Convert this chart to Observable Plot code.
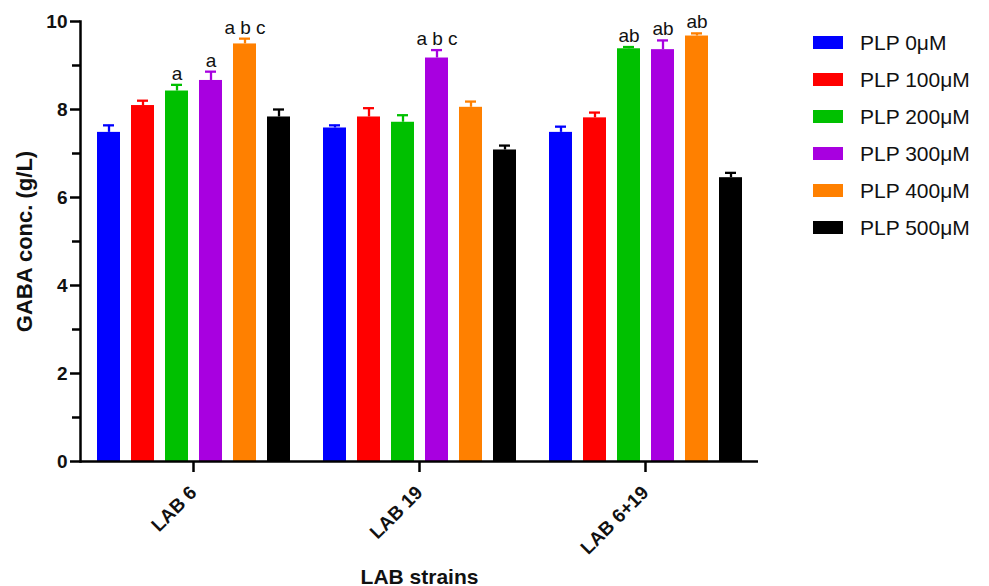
<!DOCTYPE html>
<html>
<head>
<meta charset="utf-8">
<script src="https://cdn.jsdelivr.net/npm/d3@7"></script>
<script src="https://cdn.jsdelivr.net/npm/@observablehq/plot@0.6"></script>
<style>
  html, body { margin: 0; padding: 0; background: #fff; }
  #wrap { position: relative; width: 989px; height: 586px; font-family: "Liberation Sans", Arial, sans-serif; }
  #legend { position: absolute; left: 813px; top: 24px; }
  .row { display: flex; align-items: center; height: 37px; }
  .sw { width: 30px; height: 13px; margin-right: 17px; }
  .lb { font-size: 21px; color: #111; }
  g[aria-label="y-axis label"] text { font-size: 22px; }
  g[aria-label="fx-axis label"] text { font-size: 21px; }
  g[aria-label="y-axis tick"] path, g[aria-label="fx-axis tick"] path { stroke-width: 2.5px; stroke: #000; }
</style>
</head>
<body>
<div id="wrap"><div id="chart"></div><div id="legend"></div></div>
<script>
const strains = ["LAB 6", "LAB 19", "LAB 6+19"];
const series = ["PLP 0μM", "PLP 100μM", "PLP 200μM", "PLP 300μM", "PLP 400μM", "PLP 500μM"];
const colors = ["#0000FF", "#FF0000", "#00C000", "#A800E0", "#FF8000", "#000000"];

// means (g/L) per strain, in series order
const lab6 = [7.48, 8.09, 8.42, 8.66, 9.49, 7.83];
const lab19 = [7.58, 7.83, 7.71, 9.17, 8.05, 7.08];
const lab6_19 = [7.48, 7.81, 9.38, 9.36, 9.67, 6.45];
// error (upper SD)
const err6 = [0.16, 0.11, 0.14, 0.20, 0.12, 0.17];
const err19 = [0.06, 0.20, 0.16, 0.18, 0.13, 0.10];
const err6_19 = [0.13, 0.12, 0.04, 0.21, 0.06, 0.11];
// significance letters
const let6 = ["", "", "a", "a", "a b c", ""];
const let19 = ["", "", "", "a b c", "", ""];
const let6_19 = ["", "", "ab", "ab", "ab", ""];

const yTicks = [0, 2, 4, 6, 8, 10];
const yMinor = [1, 3, 5, 7, 9];
const yDomain = [0, 10];

const means = [lab6, lab19, lab6_19];
const errs = [err6, err19, err6_19];
const lets = [let6, let19, let6_19];
const data = [];
strains.forEach((s, i) => series.forEach((p, j) => data.push({
  strain: s, series: p, value: means[i][j], err: errs[i][j], top: means[i][j] + errs[i][j], label: lets[i][j]
})));

const font = "'Liberation Sans', Arial, sans-serif";
const chart = Plot.plot({
  width: 989, height: 586, marginLeft: 80, marginRight: 231, marginTop: 21, marginBottom: 125,
  style: { fontFamily: font, fontWeight: "bold", color: "#111", background: "white" },
  fx: { domain: strains, padding: 0 },
  x: { domain: series, paddingInner: 0.33, paddingOuter: 0.46, axis: null },
  y: { domain: yDomain },
  color: { domain: series, range: colors },
  marks: [
    Plot.barY(data, { fx: "strain", x: "series", y: "value", fill: "series" }),
    Plot.ruleX(data, { fx: "strain", x: "series", y1: "value", y2: "top", stroke: "series", strokeWidth: 2.3 }),
    Plot.tickY(data, { fx: "strain", x: "series", y: "top", stroke: "series", strokeWidth: 2.3, insetLeft: 6, insetRight: 6 }),
    Plot.text(data.filter(d => d.label), { fx: "strain", x: "series", y: "top", text: "label", dy: -5, lineAnchor: "bottom", fontSize: 19, fontWeight: "normal", fill: "#111" }),
    Plot.ruleY([0], { strokeWidth: 2.5, stroke: "#000" }),
    Plot.frame({ anchor: "left", facetAnchor: "left", stroke: "#000", strokeWidth: 2.5, ariaLabel: "yline" }),
    Plot.axisY(yTicks, { anchor: "left", tickSize: 10, tickPadding: 3, fontSize: 19, label: "GABA conc. (g/L)", labelAnchor: "center", labelArrow: "none", labelOffset: 64 }),
    Plot.axisY(yMinor, { anchor: "left", tickSize: 8, tickFormat: () => "", label: null }),
    Plot.axisFx({ anchor: "bottom", tickSize: 11, tickPadding: 17, tickRotate: -45, fontSize: 19, label: "LAB strains", labelAnchor: "center", labelArrow: "none", labelOffset: 122 })
  ]
});
document.getElementById("chart").appendChild(chart);

const legend = document.getElementById("legend");
series.forEach((s, i) => {
  const row = document.createElement("div");
  row.className = "row";
  const sw = document.createElement("div");
  sw.className = "sw";
  sw.style.background = colors[i];
  const lb = document.createElement("div");
  lb.className = "lb";
  lb.textContent = s;
  row.appendChild(sw); row.appendChild(lb);
  legend.appendChild(row);
});
</script>
</body>
</html>
